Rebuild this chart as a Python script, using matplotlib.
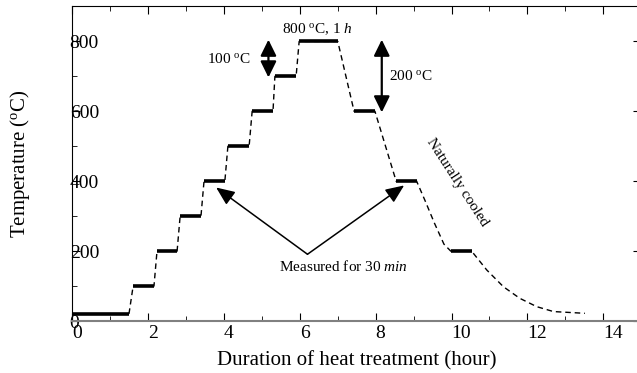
import numpy as np
import matplotlib
matplotlib.use('Agg')
import matplotlib.pyplot as plt
from matplotlib.ticker import MultipleLocator

plt.rcParams['font.family'] = 'Liberation Serif'
plt.rcParams['mathtext.fontset'] = 'custom'
plt.rcParams['mathtext.rm'] = 'Liberation Serif'
plt.rcParams['mathtext.it'] = 'Liberation Serif:italic'

# holding steps: start (h), end (h), temperature (C)
seg_start = [0.0, 1.60, 2.23, 2.84, 3.47, 4.10, 4.74, 5.34, 5.98, 7.43, 8.54, 9.98]
seg_end = [1.49, 2.15, 2.76, 3.39, 4.02, 4.66, 5.29, 5.90, 7.00, 7.98, 9.08, 10.53]
seg_temp = [20, 100, 200, 300, 400, 500, 600, 700, 800, 600, 400, 200]

# 400 -> 200 transition and natural cooling tail
drop_h = [9.30, 9.55, 9.80]
drop_T = [345, 280, 220]
cool_h = [10.93, 11.37, 11.80, 12.25, 12.69, 13.52]
cool_T = [146, 98, 65, 41, 27, 22]

x_ticks = [0, 2, 4, 6, 8, 10, 12, 14]
y_ticks = [0, 200, 400, 600, 800]

fig = plt.figure(figsize=(6.37, 3.73), dpi=100)
ax = fig.add_axes([0.1138, 0.1394, 0.8925, 0.8432])

# dashed path through all steps
path_h, path_T = [], []
for i in range(len(seg_temp)):
	path_h += [seg_start[i], seg_end[i]]
	path_T += [seg_temp[i], seg_temp[i]]
	if seg_temp[i] == 400 and seg_start[i] > 8:
		path_h += drop_h
		path_T += drop_T
path_h += cool_h
path_T += cool_T
ax.plot(path_h, path_T, color='k', lw=1.0, dashes=(4, 2.8))

# thick holding segments
for s, e, t in zip(seg_start, seg_end, seg_temp):
	ax.plot([s, e], [t, t], color='k', lw=2.6, solid_capstyle='butt')

# double arrows
dbl = '<|-|>,head_length=0.65,head_width=0.32'
ax.annotate('', xy=(5.17, 805), xytext=(5.17, 697),
	arrowprops=dict(arrowstyle=dbl, color='k', lw=1.6, mutation_scale=15, shrinkA=0, shrinkB=0))
ax.annotate('', xy=(8.16, 805), xytext=(8.16, 597),
	arrowprops=dict(arrowstyle=dbl, color='k', lw=1.6, mutation_scale=15, shrinkA=0, shrinkB=0))

# measured arrows
one = '-|>,head_length=0.75,head_width=0.32'
ax.annotate('', xy=(3.79, 382), xytext=(6.2, 191),
	arrowprops=dict(arrowstyle=one, color='k', lw=1.1, mutation_scale=15, shrinkA=0, shrinkB=0))
ax.annotate('', xy=(8.75, 388), xytext=(6.2, 191),
	arrowprops=dict(arrowstyle=one, color='k', lw=1.1, mutation_scale=15, shrinkA=0, shrinkB=0))

ax.text(6.46, 836, r'800 $^{\mathrm{o}}$C, 1 $h$', fontsize=11, ha='center', va='center')
ax.text(4.12, 750, r'100 $^{\mathrm{o}}$C', fontsize=11, ha='center', va='center')
ax.text(8.94, 700, r'200 $^{\mathrm{o}}$C', fontsize=11, ha='center', va='center')
ax.text(7.14, 155, r'Measured for 30 $min$', fontsize=11, ha='center', va='center')
ax.text(10.15, 398, 'Naturally cooled', fontsize=11, ha='center', va='center', rotation=-57)

ax.set_xlim(0, 15)
ax.set_ylim(0, 900)
ax.set_xticks(x_ticks)
ax.set_xticklabels([str(v) for v in x_ticks], ha='left')
ax.set_yticks(y_ticks)
ax.set_yticklabels([str(v) for v in y_ticks], ha='left')
ax.xaxis.set_minor_locator(MultipleLocator(1))
ax.yaxis.set_minor_locator(MultipleLocator(100))
ax.tick_params(which='both', direction='in', top=True, right=True, labelsize=14)
ax.tick_params(which='major', length=6)
ax.tick_params(which='minor', length=3.5)
ax.tick_params(axis='y', which='minor', right=False)
ax.tick_params(axis='x', pad=3)
ax.tick_params(axis='y', pad=2)

ax.spines['bottom'].set_color('#808080')
ax.spines['bottom'].set_linewidth(1.5)

ax.set_xlabel('Duration of heat treatment (hour)', fontsize=15)
ax.set_ylabel(r'Temperature ($^{\mathrm{o}}$C)', fontsize=15)
ax.xaxis.set_label_coords(0.5, -0.095)
ax.yaxis.set_label_coords(-0.072, 0.5)

fig.savefig('out.png', dpi=100)
